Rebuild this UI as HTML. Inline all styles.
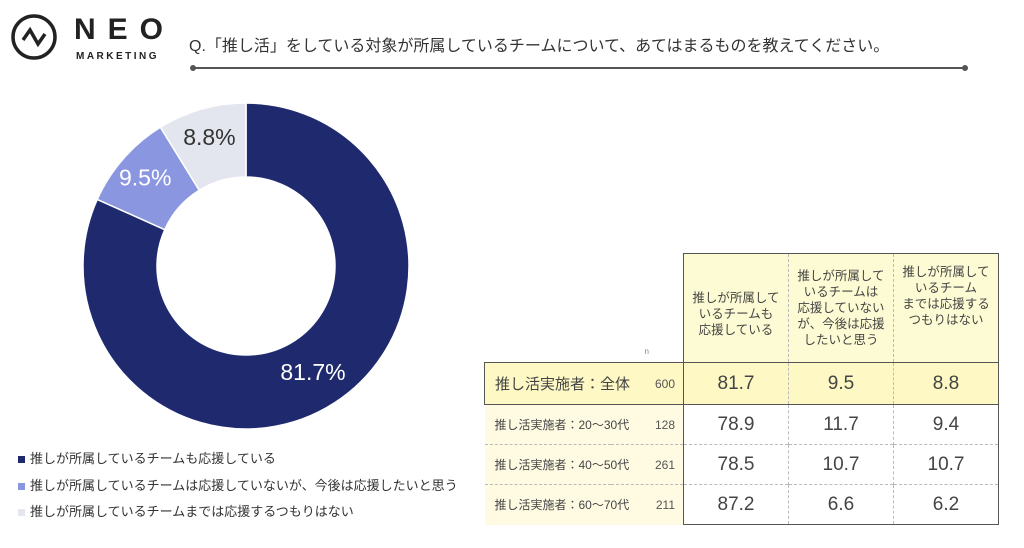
<!DOCTYPE html>
<html><head><meta charset="utf-8"><style>
body{margin:0;width:1024px;height:548px;background:#fff;font-family:"Liberation Sans","Noto Sans CJK JP",sans-serif;position:relative;overflow:hidden;color:#333}
.a{position:absolute}
table{position:absolute;left:484px;top:253px;width:514px;border-collapse:collapse;font-size:13px;table-layout:fixed}
td{padding:0;text-align:center;color:#444;white-space:nowrap;box-sizing:border-box}
.hd{background:#fdfbd3;border-left:1.5px solid #555;line-height:16px;font-size:12.5px;vertical-align:middle}
.num{font-size:19px}
.r td{border-top:1px dashed #bbb;height:40px}
.lab{background:#fffbe3;text-align:left;padding-left:10px;font-size:12px}
</style></head><body>
<svg class="a" style="left:10px;top:13px" width="48" height="48"><circle cx="24" cy="24" r="21" fill="none" stroke="#222" stroke-width="3.5"/><polyline points="13,27 20,17 28,31 35,21" fill="none" stroke="#222" stroke-width="3.5"/></svg>
<div class="a" style="left:74px;top:13px;font-size:30px;font-weight:bold;letter-spacing:12px;color:#222">NEO</div>
<div class="a" style="left:76px;top:51px;font-size:10px;font-weight:bold;letter-spacing:2.5px;color:#222">MARKETING</div>
<div class="a" style="left:189px;top:32px;font-size:16px;color:#333">Q.「推し活」をしている対象が所属しているチームについて、あてはまるものを教えてください。</div>
<div class="a" style="left:193px;top:67px;width:772px;height:2px;background:#555"></div>
<div class="a" style="left:190px;top:65px;width:6px;height:6px;border-radius:3px;background:#555"></div>
<div class="a" style="left:962px;top:65px;width:6px;height:6px;border-radius:3px;background:#555"></div>
<svg id="donut" class="a" style="left:0;top:0" width="480" height="548"></svg>
<div class="a" style="left:18px;top:446px;font-size:13px;line-height:26.5px;color:#333">
<div><span style="display:inline-block;width:7px;height:7px;background:#1f2a6e;margin-right:5px"></span>推しが所属しているチームも応援している</div>
<div><span style="display:inline-block;width:7px;height:7px;background:#8a97e0;margin-right:5px"></span>推しが所属しているチームは応援していないが、今後は応援したいと思う</div>
<div><span style="display:inline-block;width:7px;height:7px;background:#e3e6ee;margin-right:5px"></span>推しが所属しているチームまでは応援するつもりはない</div>
</div>
<table>
<colgroup><col style="width:126px"><col style="width:73px"><col style="width:105px"><col style="width:105px"><col style="width:105px"></colgroup>
<tr style="height:109px"><td></td><td style="vertical-align:bottom;font-size:8px;color:#888;padding-bottom:6px">n</td>
<td class="hd" style="border-top:1.5px solid #555;padding-top:12px">推しが所属して<br>いるチームも<br>応援している</td>
<td class="hd" style="border-top:1.5px solid #555;border-left:1px dashed #bbb">推しが所属して<br>いるチームは<br>応援していない<br>が、今後は応援<br>したいと思う</td>
<td class="hd" style="border-top:1.5px solid #555;border-right:1.5px solid #555;border-left:1px dashed #bbb;vertical-align:top;padding-top:10px">推しが所属して<br>いるチーム<br>までは応援する<br>つもりはない</td></tr>
<tbody id="rows"></tbody>
</table>
<script>
const slices=['推しが所属しているチームも応援している','推しが所属しているチームは応援していないが、今後は応援したいと思う','推しが所属しているチームまでは応援するつもりはない'];
const sliceValues=[81.7,9.5,8.8];
const sliceColors=['#1f2a6e','#8a97e0','#e3e6ee'];
const rowLabels=['推し活実施者：全体','推し活実施者：20～30代','推し活実施者：40～50代','推し活実施者：60～70代'];
const rowN=[600,128,261,211];
const col1=[81.7,78.9,78.5,87.2];
const col2=[9.5,11.7,10.7,6.6];
const col3=[8.8,9.4,10.7,6.2];
const ns='http://www.w3.org/2000/svg';
const svg=document.getElementById('donut');
const cx=246,cy=266,R=163,r=89;
const total=sliceValues.reduce((a,b)=>a+b,0);
let ang=0;
sliceValues.forEach((v,i)=>{
 const a0=ang,a1=ang+v/total*2*Math.PI;ang=a1;
 const P=(rad,a)=>[cx+rad*Math.sin(a),cy-rad*Math.cos(a)];
 const large=(a1-a0)>Math.PI?1:0;
 const [x0,y0]=P(R,a0),[x1,y1]=P(R,a1),[x2,y2]=P(r,a1),[x3,y3]=P(r,a0);
 const p=document.createElementNS(ns,'path');
 p.setAttribute('d',`M${x0},${y0}A${R},${R} 0 ${large} 1 ${x1},${y1}L${x2},${y2}A${r},${r} 0 ${large} 0 ${x3},${y3}Z`);
 p.setAttribute('fill',sliceColors[i]);p.setAttribute('stroke','#fff');p.setAttribute('stroke-width','1.5');
 
 
 svg.appendChild(p);
 const m=(a0+a1)/2;const lr=(R+r)/2+8;
 let [tx,ty]=P(lr,m);
 if(i==0){tx=313;ty=372;}
 const t=document.createElementNS(ns,'text');
 t.setAttribute('x',tx);t.setAttribute('y',ty+8);t.setAttribute('text-anchor','middle');
 t.setAttribute('font-size','23');t.setAttribute('fill',i==2?'#333':'#fff');
 t.setAttribute('font-family','Liberation Sans,sans-serif');
 t.textContent=v.toFixed(1)+'%';
 
 
 svg.appendChild(t);
});
const tb=document.getElementById('rows');
rowLabels.forEach((l,i)=>{
 const tr=document.createElement('tr');tr.className='r';
 
 
 const first=i==0;
 const bg=first?'background:#fdf8c4;':'';
 const h=first?'height:42px;':'';
 tr.innerHTML=`<td class="lab" style="${first?'background:#fdf8c4;font-size:15px;border:1.5px solid #555;border-right:none;':''}${h}">${l}</td>`+
 `<td style="${first?'background:#fdf8c4;border-top:1.5px solid #555;border-bottom:1.5px solid #555;':'background:#fffbe3;'}font-size:12px;color:#555;text-align:right;padding-right:8px">${rowN[i]}</td>`+
 [col1[i],col2[i],col3[i]].map((v,j)=>`<td class="num" style="${bg}border-left:${j?'1px dashed #bbb':'1.5px solid #555'};${j==2?'border-right:1.5px solid #555;':''}${first?'border-top:1.5px solid #555;border-bottom:1.5px solid #555;':''}${i==3?'border-bottom:1.5px solid #555;':''}">${v.toFixed(1)}</td>`).join('');
 tb.appendChild(tr);
});
</script>
</body></html>
